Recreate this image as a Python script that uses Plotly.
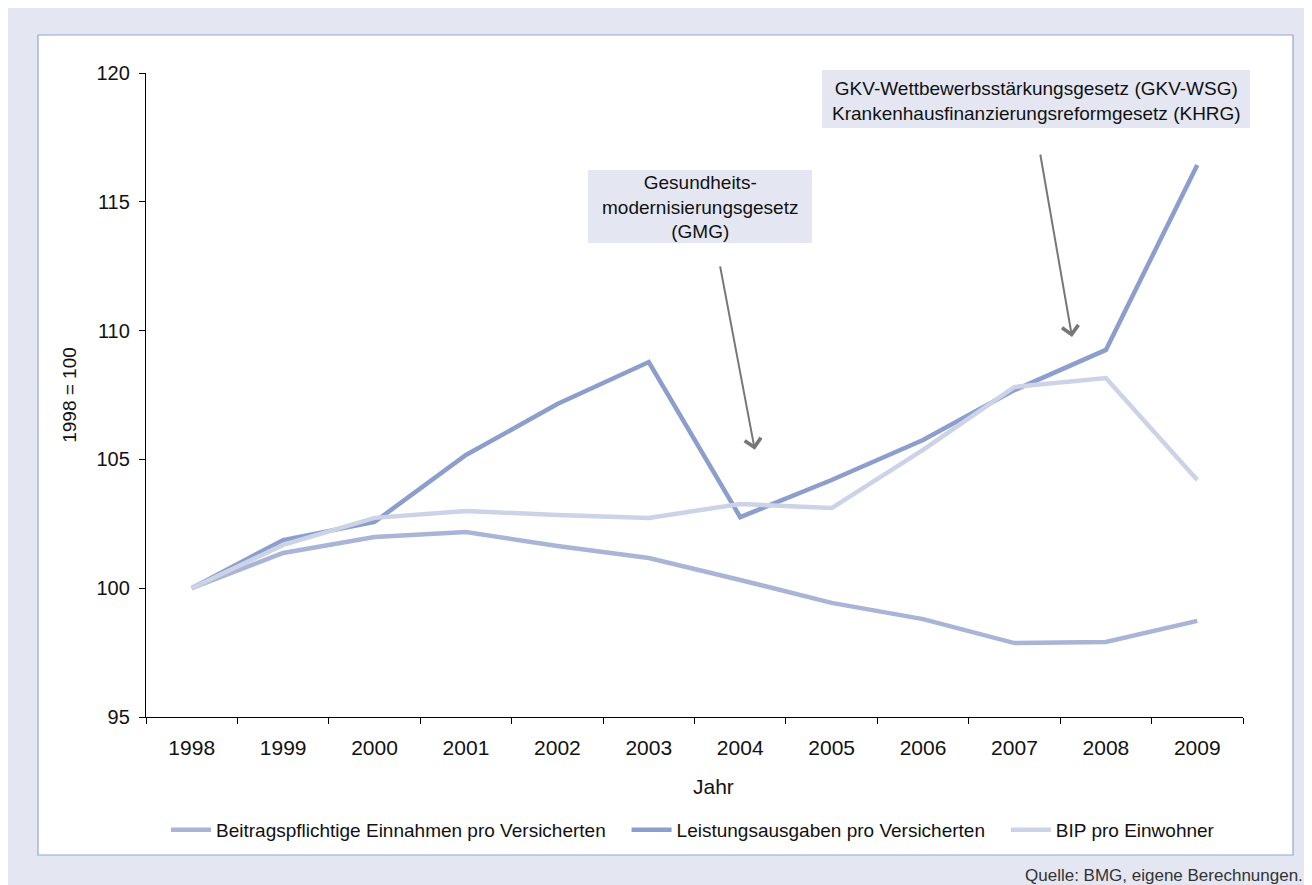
import plotly.graph_objects as go

jahre = ["1998", "1999", "2000", "2001", "2002", "2003", "2004", "2005", "2006", "2007", "2008", "2009"]
einnahmen = [100.0, 101.37, 101.99, 102.18, 101.64, 101.17, 100.32, 99.43, 98.80, 97.87, 97.91, 98.73]
ausgaben = [100.0, 101.87, 102.57, 105.17, 107.15, 108.78, 102.76, 104.20, 105.75, 107.69, 109.25, 116.43]
bip = [100.0, 101.68, 102.73, 103.00, 102.84, 102.73, 103.27, 103.11, 105.37, 107.81, 108.16, 104.20]

# die Seite wird mit 8 px Rand dargestellt, daher alles um 8 px verschoben
OFF = 8
W, H = 1312 - OFF, 885 - OFF
L, T = 146 - OFF, 73 - OFF
PW, PH = 1097, 644
R, B = W - L - PW, H - T - PH
FONT = "Liberation Sans, Arial, sans-serif"
BG = "#e4e7f2"
NB = "\u00a0"


def px(x):
    return (x - OFF - L) / PW


def py(y):
    return (H - B - (y - OFF)) / PH


fig = go.Figure()
series = [
    ("Beitragspflichtige Einnahmen pro Versicherten", einnahmen, "#a9b4d6"),
    ("Leistungsausgaben pro Versicherten", ausgaben, "#8c9ecb"),
    ("BIP pro Einwohner", bip, "#cdd3e7"),
]
for i, (name, values, color) in enumerate(series):
    label = name + (NB * 3 if i < len(series) - 1 else "")
    fig.add_trace(go.Scatter(x=jahre, y=values, mode="lines", name=label,
                             line=dict(color=color, width=4.5)))

shapes = [
    dict(type="rect", xref="paper", yref="paper", x0=px(38), x1=px(1293), y0=py(35), y1=py(855),
         fillcolor="white", line=dict(color="#93a6cf", width=1.2), layer="below"),
    dict(type="rect", xref="paper", yref="paper", x0=px(588), x1=px(812), y0=py(170), y1=py(243),
         fillcolor=BG, line=dict(width=0), layer="below"),
    dict(type="rect", xref="paper", yref="paper", x0=px(822), x1=px(1250), y0=py(70), y1=py(128),
         fillcolor=BG, line=dict(width=0), layer="below"),
]

annotations = [
    dict(x=px(700), y=py(207), xref="paper", yref="paper", xanchor="center", yanchor="middle",
         showarrow=False, text="Gesundheits-<br>modernisierungsgesetz<br>(GMG)",
         font=dict(size=19, color="#111"), align="center"),
    dict(x=px(1036), y=py(101), xref="paper", yref="paper", xanchor="center", yanchor="middle",
         showarrow=False,
         text="GKV-Wettbewerbsstärkungsgesetz (GKV-WSG)<br>Krankenhausfinanzierungsreformgesetz (KHRG)",
         font=dict(size=19, color="#111"), align="center"),
    dict(x=6.16, y=105.37, xref="x", yref="y", text="", showarrow=True, arrowhead=4,
         arrowsize=1.6, arrowwidth=2, arrowcolor="#777777", ax=-35, ay=-185),
    dict(x=9.63, y=109.75, xref="x", yref="y", text="", showarrow=True, arrowhead=4,
         arrowsize=1.6, arrowwidth=2, arrowcolor="#777777", ax=-32, ay=-184),
    dict(x=px(713), y=py(786), xref="paper", yref="paper", xanchor="center", yanchor="middle",
         showarrow=False, text="Jahr", font=dict(size=21, color="#111")),
    dict(x=px(1305), y=py(875), xref="paper", yref="paper", xanchor="right", yanchor="middle",
         showarrow=False, text="Quelle: BMG, eigene Berechnungen.", font=dict(size=17, color="#333")),
]

fig.update_layout(
    width=W, height=H,
    margin=dict(l=L, r=R, t=T, b=B),
    paper_bgcolor=BG, plot_bgcolor="rgba(0,0,0,0)",
    font=dict(family=FONT, size=19, color="#111"),
    shapes=shapes, annotations=annotations,
    legend=dict(orientation="h", x=px(693), xanchor="center", y=py(830), yanchor="middle",
                font=dict(size=19), bgcolor="rgba(0,0,0,0)", itemwidth=40, tracegroupgap=0),
    xaxis=dict(type="category", range=[-0.5, 11.5], tickson="boundaries", ticks="outside",
               ticklen=6, tickcolor="black", tickwidth=1.3, showline=True, linecolor="black",
               linewidth=1.3, showgrid=False, zeroline=False, tickfont=dict(size=21),
               ticklabelstandoff=12),
    yaxis=dict(range=[95, 120], dtick=5, ticks="outside", ticklen=6, tickcolor="black",
               tickwidth=1.3, showline=True, linecolor="black", linewidth=1.3, showgrid=False,
               zeroline=False, tickfont=dict(size=20), ticklabelstandoff=5,
               title=dict(text="1998 = 100", font=dict(size=19), standoff=14)),
)

fig.write_html("out.html")
